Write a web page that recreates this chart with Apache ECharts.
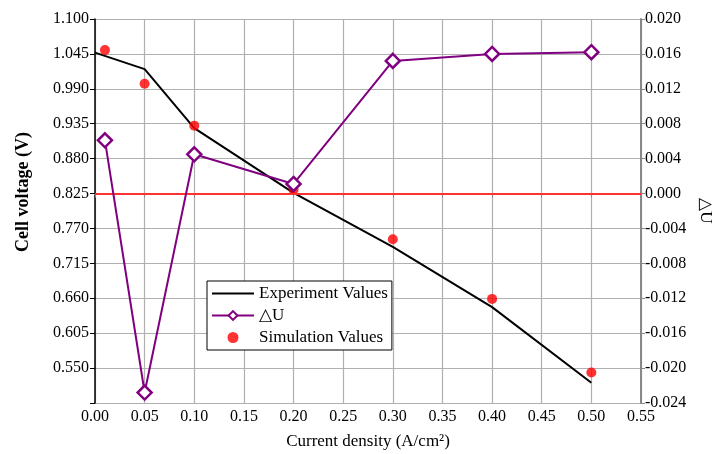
<!DOCTYPE html>
<html>
<head>
<meta charset="utf-8">
<script src="https://cdn.jsdelivr.net/npm/echarts@6/dist/echarts.min.js"></script>
<style>
  html, body { margin: 0; padding: 0; background: #fff; }
  #chart { width: 712px; height: 454px; }
</style>
</head>
<body>
<div id="chart"></div>
<script>
// experiment values (black line)
const expX = [0, 0.05, 0.10, 0.20, 0.30, 0.40, 0.50];
const expY = [1.047, 1.021, 0.928, 0.826, 0.741, 0.646, 0.527];
// simulation values (red dots)
const simX = [0.01, 0.05, 0.10, 0.20, 0.30, 0.40, 0.50];
const simY = [1.051, 0.998, 0.932, 0.831, 0.753, 0.659, 0.543];
// delta U (right axis)
const dX = [0.01, 0.05, 0.10, 0.20, 0.30, 0.40, 0.50];
const dY = [0.0061, -0.0228, 0.0045, 0.0011, 0.0152, 0.0160, 0.0162];

const zip = (a, b) => a.map((v, i) => [v, b[i]]);

const chart = echarts.init(document.getElementById('chart'));
const font = 'Liberation Serif';

const option = {
  textStyle: { fontFamily: font, color: '#000' },
  animation: false,
  grid: { left: 95, right: 71, top: 19, bottom: 51, outerBoundsMode: 'none' },
  legend: {
    orient: 'vertical',
    left: 207, top: 281,
    backgroundColor: '#fff',
    borderColor: '#000', borderWidth: 1, borderRadius: 0,
    padding: [4, 4, 4, 4],
    itemGap: 5, itemWidth: 42, itemHeight: 11,
    textStyle: { fontFamily: font, fontSize: 17, lineHeight: 17, color: '#000' },
    data: [
      { name: 'Experiment Values', itemStyle: { opacity: 0 } },
      { name: '△U' },
      { name: 'Simulation Values' }
    ]
  },
  xAxis: {
    type: 'value', min: 0, max: 0.55, interval: 0.05,
    name: 'Current density (A/cm²)', nameLocation: 'middle', nameGap: 30,
    nameTextStyle: { fontFamily: font, fontSize: 17, color: '#000' },
    axisLine: { lineStyle: { color: '#888', width: 2 } },
    axisTick: { show: true, lineStyle: { color: '#888' }, length: 4 },
    axisLabel: { fontFamily: font, fontSize: 16, color: '#000', margin: 6,
      formatter: v => v.toFixed(2) },
    splitLine: { show: true, lineStyle: { color: '#b0b0b0', width: 1.2 } }
  },
  yAxis: [
    {
      type: 'value', min: 0.495, max: 1.1, interval: 0.055,
      name: 'Cell voltage (V)', nameLocation: 'middle', nameGap: 63,
      nameTextStyle: { fontFamily: font, fontSize: 18, fontWeight: 'bold', color: '#000',
        padding: [0, 0, 0, 38] },
      axisLine: { show: true, lineStyle: { color: '#000', width: 1.5 } },
      axisTick: { show: true, lineStyle: { color: '#000' }, length: 5 },
      axisLabel: { fontFamily: font, fontSize: 16, color: '#000', margin: 6,
        formatter: v => v < 0.5 ? '' : v.toFixed(3) },
      splitLine: { show: true, lineStyle: { color: '#b0b0b0', width: 1.2 } }
    },
    {
      type: 'value', min: -0.024, max: 0.02, interval: 0.004,
      position: 'right',
      name: '△U', nameLocation: 'middle', nameGap: 56, nameRotate: -90,
      nameTextStyle: { fontFamily: font, fontSize: 17, color: '#000' },
      axisLine: { show: true, lineStyle: { color: '#888', width: 2 } },
      axisTick: { show: true, lineStyle: { color: '#888' }, length: 4 },
      axisLabel: { fontFamily: font, fontSize: 16, color: '#000', margin: 4,
        formatter: v => v.toFixed(3) },
      splitLine: { show: false }
    }
  ],
  series: [
    {
      name: 'Experiment Values', type: 'line', yAxisIndex: 0,
      data: zip(expX, expY), symbol: 'none',
      lineStyle: { color: '#000', width: 2 }, itemStyle: { color: '#000' },
      z: 3
    },
    {
      name: 'Simulation Values', type: 'scatter', yAxisIndex: 0,
      data: zip(simX, simY), symbol: 'circle', symbolSize: 10,
      itemStyle: { color: '#ff0000' }, z: 4
    },
    {
      name: '△U', type: 'line', yAxisIndex: 1,
      data: zip(dX, dY), symbol: 'diamond', symbolSize: 14,
      lineStyle: { color: '#800080', width: 2 },
      itemStyle: { color: '#fff', borderColor: '#800080', borderWidth: 2.5 },
      z: 5,
      markLine: {
        silent: true, symbol: 'none', label: { show: false },
        lineStyle: { color: '#ff3030', width: 2, type: 'solid' },
        data: [{ yAxis: 0 }]
      }
    }
  ]
};

chart.setOption(option);
</script>
</body>
</html>
